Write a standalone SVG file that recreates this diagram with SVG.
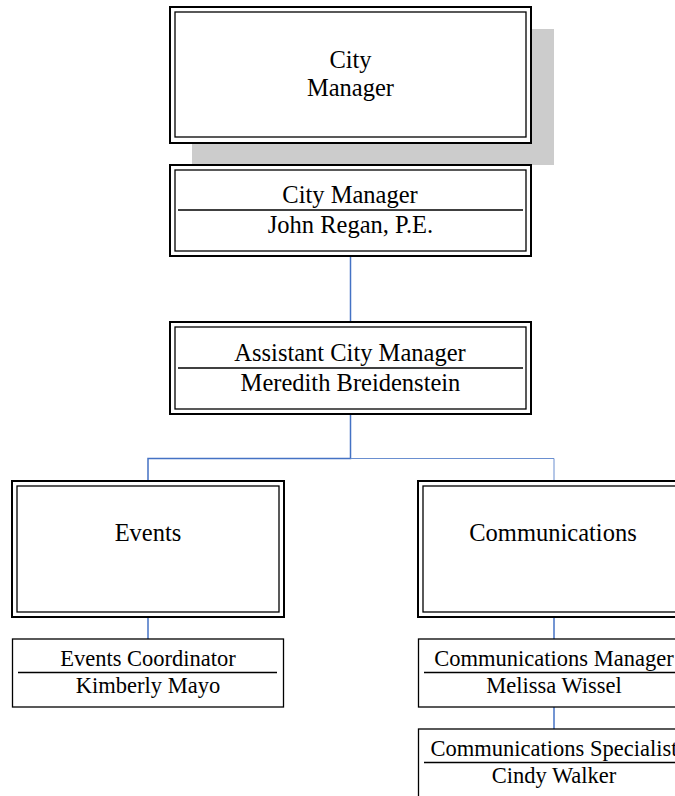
<svg xmlns="http://www.w3.org/2000/svg" width="675" height="796" viewBox="0 0 675 796">
<style>
  .outer { fill: none; stroke: #000; stroke-width: 2; }
  .inner { fill: none; stroke: #000; stroke-width: 1.3; }
  .single { fill: #fff; stroke: #000; stroke-width: 1.3; }
  .div { stroke: #000; stroke-width: 1.5; }
  text { font-family: 'Liberation Serif', 'Times New Roman', 'DejaVu Serif', serif; fill: #000; text-anchor: middle; }
  .t { font-size: 24.5px; }
  .s { font-size: 22.5px; }
  .con { fill: none; stroke: #4472C4; stroke-width: 1.5; }
  .con2 { fill: none; stroke: #6A8FD0; stroke-width: 1; }
</style>
<rect width="675" height="796" fill="#fff"/>
<g id="connectors">
  <path class="con" d="M350.5,256 V322"/>
  <path class="con" d="M350.5,414 V458.5 H148 V481"/>
  <path class="con2" d="M350.5,458.5 H554 V481"/>
  <path class="con" d="M148,617 V639"/>
  <path class="con" d="M554,617 V639"/>
  <path class="con" d="M554,707 V729"/>
</g>
<g id="city-manager-unit">
  <rect x="192" y="29" width="362" height="136" fill="#cccccc"/>
  <rect x="170" y="7" width="361" height="136" fill="#fff"/>
  <rect class="outer" x="170" y="7" width="361" height="136"/>
  <rect class="inner" x="175" y="12" width="351" height="125"/>
  <text class="t" x="350.5" y="68" font-family="Liberation Serif">City</text>
  <text class="t" x="350.5" y="96" font-family="Liberation Serif">Manager</text>
</g>
<g id="city-manager">
  <rect x="170" y="165" width="361" height="91" fill="#fff"/>
  <rect class="outer" x="170" y="165" width="361" height="91"/>
  <rect class="inner" x="175" y="170" width="351" height="81"/>
  <line class="div" x1="178" y1="210" x2="523" y2="210"/>
  <text class="t" x="350" y="203">City Manager</text>
  <text class="t" x="350.5" y="233">John Regan, P.E.</text>
</g>
<g id="assistant-city-manager">
  <rect x="170" y="322" width="361" height="92" fill="#fff"/>
  <rect class="outer" x="170" y="322" width="361" height="92"/>
  <rect class="inner" x="175" y="327" width="351" height="82"/>
  <line class="div" x1="178" y1="368" x2="523" y2="368"/>
  <text class="t" x="350" y="361">Assistant City Manager</text>
  <text class="t" x="350.5" y="390.5">Meredith Breidenstein</text>
</g>
<g id="events">
  <rect x="12" y="481" width="272" height="136" fill="#fff"/>
  <rect class="outer" x="12" y="481" width="272" height="136"/>
  <rect class="inner" x="17" y="486" width="262" height="126"/>
  <text class="t" x="148" y="541">Events</text>
</g>
<g id="events-coordinator">
  <rect class="single" x="12.5" y="639" width="271" height="68"/>
  <line class="div" x1="18" y1="672.5" x2="277" y2="672.5"/>
  <text class="s" x="148" y="666">Events Coordinator</text>
  <text class="s" x="148" y="692.5">Kimberly Mayo</text>
</g>
<g id="communications">
  <rect x="418" y="481" width="272" height="136" fill="#fff"/>
  <rect class="outer" x="418" y="481" width="272" height="136"/>
  <rect class="inner" x="423" y="486" width="262" height="126"/>
  <text class="t" x="553" y="541">Communications</text>
</g>
<g id="communications-manager">
  <rect class="single" x="418.5" y="639" width="271" height="68"/>
  <line class="div" x1="424" y1="672.5" x2="683" y2="672.5"/>
  <text class="s" x="554" y="666">Communications Manager</text>
  <text class="s" x="554" y="692.5">Melissa Wissel</text>
</g>
<g id="communications-specialist">
  <rect class="single" x="418.5" y="729" width="271" height="80"/>
  <line class="div" x1="424" y1="762.5" x2="683" y2="762.5"/>
  <text class="s" x="554" y="756">Communications Specialist</text>
  <text class="s" x="554" y="783">Cindy Walker</text>
</g>
</svg>
